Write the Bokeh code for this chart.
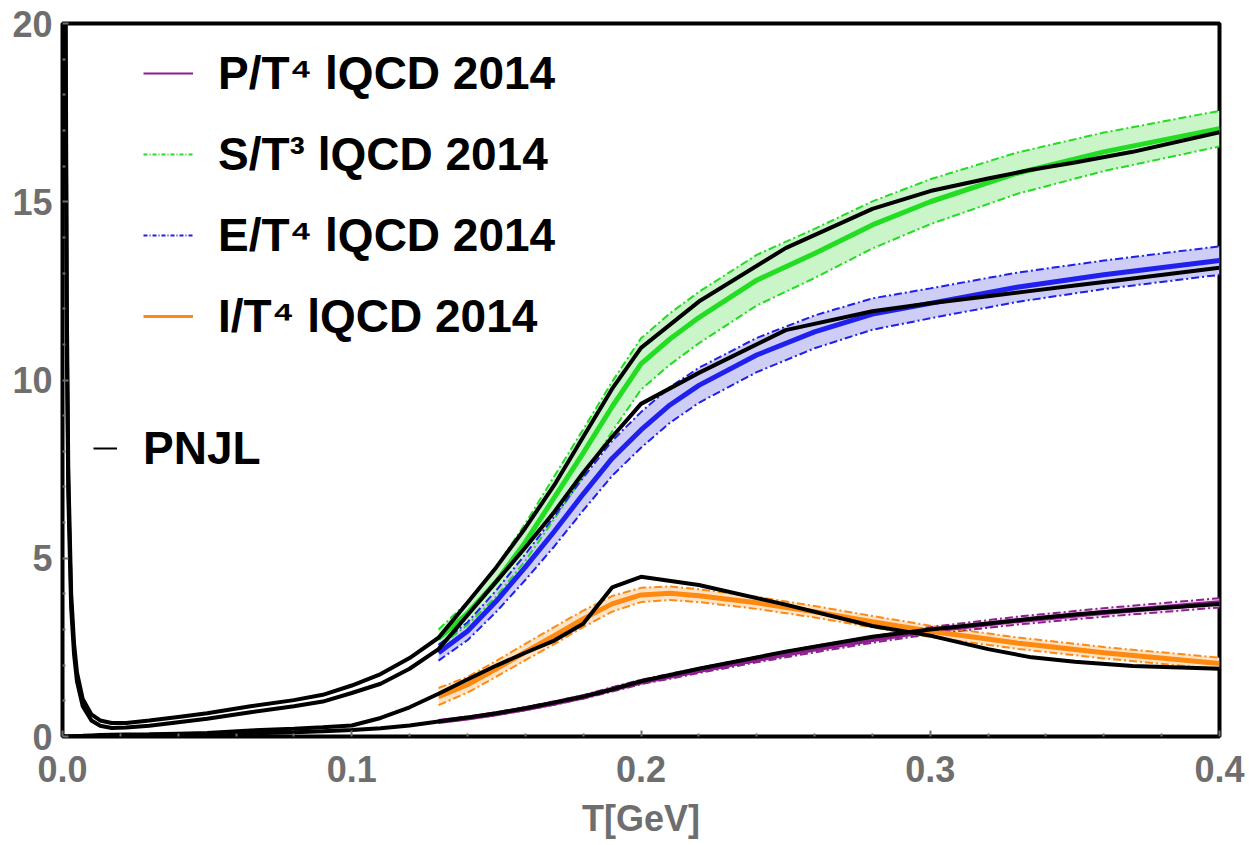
from bokeh.plotting import figure
from bokeh.models import (Legend, LegendItem, FixedTicker, PrintfTickFormatter, Range1d)
from bokeh.embed import file_html
from bokeh.resources import INLINE

# ---------------- data ----------------
# lattice QCD 2014 bands
T_lat = [0.13, 0.14, 0.15, 0.16, 0.17, 0.18, 0.19, 0.20, 0.21, 0.22,
         0.24, 0.26, 0.28, 0.30, 0.33, 0.36, 0.40]
P_lat = [0.42, 0.52, 0.64, 0.78, 0.94, 1.11, 1.32, 1.53, 1.69, 1.85,
         2.16, 2.45, 2.72, 2.97, 3.25, 3.48, 3.75]
P_err = [0.03, 0.03, 0.04, 0.04, 0.05, 0.05, 0.06, 0.06, 0.07, 0.07,
         0.08, 0.09, 0.09, 0.10, 0.11, 0.12, 0.13]
S_lat = [2.75, 3.45, 4.35, 5.45, 6.70, 7.95, 9.25, 10.45, 11.15, 11.75,
         12.80, 13.55, 14.35, 15.00, 15.80, 16.40, 17.05]
S_err = [0.25, 0.32, 0.42, 0.52, 0.60, 0.66, 0.70, 0.72, 0.72, 0.72,
         0.71, 0.69, 0.66, 0.63, 0.58, 0.54, 0.50]
E_lat = [2.35, 2.95, 3.80, 4.75, 5.75, 6.80, 7.80, 8.60, 9.30, 9.85,
         10.70, 11.35, 11.85, 12.15, 12.60, 12.95, 13.35]
E_err = [0.22, 0.25, 0.30, 0.36, 0.42, 0.46, 0.49, 0.50, 0.50, 0.49,
         0.48, 0.46, 0.44, 0.42, 0.41, 0.40, 0.40]
I_lat = [1.12, 1.45, 1.90, 2.37, 2.83, 3.30, 3.72, 3.97, 4.02, 3.95,
         3.75, 3.50, 3.22, 2.95, 2.62, 2.35, 2.05]
I_err = [0.24, 0.22, 0.22, 0.23, 0.24, 0.23, 0.22, 0.20, 0.19, 0.18,
         0.17, 0.16, 0.16, 0.16, 0.16, 0.16, 0.16]

# PNJL model curves
T_pnjl = [0.0005, 0.001, 0.0015, 0.002, 0.003, 0.004, 0.005, 0.007, 0.01,
          0.013, 0.017, 0.022, 0.03, 0.04, 0.05, 0.065, 0.08, 0.09, 0.10,
          0.11, 0.12, 0.13, 0.14, 0.15, 0.16, 0.17, 0.18, 0.19, 0.20,
          0.22, 0.25, 0.28, 0.30, 0.32, 0.335, 0.35, 0.37, 0.40]
S_pnjl = [40.0, 22.0, 12.0, 7.5, 4.0, 2.6, 1.8, 1.05, 0.62,
          0.45, 0.38, 0.38, 0.45, 0.55, 0.65, 0.85, 1.02, 1.17, 1.43,
          1.75, 2.20, 2.77, 3.75, 4.75, 5.85, 7.05, 8.40, 9.75, 10.90,
          12.20, 13.70, 14.80, 15.30, 15.65, 15.90, 16.10, 16.40, 16.95]
E_pnjl = [38.0, 20.0, 11.0, 6.8, 3.6, 2.3, 1.55, 0.85, 0.45,
          0.30, 0.24, 0.25, 0.30, 0.40, 0.50, 0.68, 0.85, 0.98, 1.22,
          1.48, 1.90, 2.45, 3.40, 4.35, 5.30, 6.30, 7.40, 8.40, 9.33,
          10.20, 11.40, 11.93, 12.15, 12.35, 12.50, 12.65, 12.85, 13.15]
P_pnjl = [0.0, 0.0, 0.0, 0.0, 0.0, 0.0, 0.005, 0.008, 0.01,
          0.015, 0.02, 0.025, 0.03, 0.045, 0.06, 0.09, 0.12, 0.15, 0.18,
          0.23, 0.31, 0.42, 0.53, 0.65, 0.79, 0.95, 1.12, 1.32, 1.55,
          1.90, 2.38, 2.80, 3.00, 3.17, 3.30, 3.42, 3.55, 3.72]
I_pnjl = [0.0, 0.0, 0.0, 0.0, 0.005, 0.01, 0.015, 0.02, 0.03,
          0.04, 0.05, 0.055, 0.06, 0.08, 0.10, 0.17, 0.22, 0.26, 0.31,
          0.52, 0.82, 1.20, 1.60, 1.99, 2.35, 2.69, 3.16, 4.18, 4.48,
          4.25, 3.70, 3.10, 2.83, 2.45, 2.22, 2.10, 1.98, 1.90]

x_ticks = [0.0, 0.1, 0.2, 0.3, 0.4]
x_minor = [0.02, 0.04, 0.06, 0.08, 0.12, 0.14, 0.16, 0.18, 0.22, 0.24,
           0.26, 0.28, 0.32, 0.34, 0.36, 0.38]
y_ticks = [0, 5, 10, 15, 20]
y_minor = [1, 2, 3, 4, 6, 7, 8, 9, 11, 12, 13, 14, 16, 17, 18, 19]

x_title = "T[GeV]"
labels = ["P/T\u2074 lQCD 2014", "S/T\u00b3 lQCD 2014",
          "E/T\u2074 lQCD 2014", "I/T\u2074 lQCD 2014"]
nan_pt = [float("nan")]

# ---------------- figure ----------------
FONT = "Liberation Sans"
GRAY = "#6e6e6e"

p = figure(width=1249, height=845, x_range=Range1d(0, 0.4), y_range=Range1d(0, 20),
           output_backend="svg", toolbar_location=None,
           min_border_left=62, min_border_right=30, min_border_top=23,
           min_border_bottom=109)
p.grid.visible = False
p.outline_line_color = "black"
p.outline_line_width = 4
p.background_fill_color = "white"
p.border_fill_color = "white"

def style_axis(ax):
    ax.axis_line_color = None
    ax.major_tick_in = 6
    ax.major_tick_out = 0
    ax.minor_tick_in = 3
    ax.minor_tick_out = 0
    ax.major_tick_line_color = GRAY
    ax.minor_tick_line_color = GRAY
    ax.major_tick_line_width = 2
    ax.minor_tick_line_width = 2
    ax.major_label_text_font = FONT
    ax.major_label_text_font_style = "bold"
    ax.major_label_text_color = GRAY
    ax.major_label_text_font_size = "36px"
    ax.major_label_text_line_height = 0.85

xa = p.xaxis[0]
xa.ticker = FixedTicker(ticks=x_ticks, minor_ticks=x_minor)
xa.formatter = PrintfTickFormatter(format="%.1f")
style_axis(xa)
xa.major_label_standoff = 19
xa.axis_label = x_title
xa.axis_label_text_font = FONT
xa.axis_label_text_font_style = "bold"
xa.axis_label_text_font_size = "36px"
xa.axis_label_text_color = GRAY
xa.axis_label_text_line_height = 0.85
xa.axis_label_standoff = 13

ya = p.yaxis[0]
ya.ticker = FixedTicker(ticks=y_ticks, minor_ticks=y_minor)
ya.formatter = PrintfTickFormatter(format="%d")
style_axis(ya)
ya.major_label_standoff = 10

# ---------------- lattice bands ----------------
DASH = "8 3 2 3"
bands = [
    (P_lat, P_err, "#8e1f8e", "#f3dcf3"),
    (S_lat, S_err, "#22dd22", "#c9f5c9"),
    (E_lat, E_err, "#1f1fee", "#cdcdf6"),
    (I_lat, I_err, "#ff8a12", "#ffe3c6"),
]
for c, e, lc, fc in bands:
    up = [a + b for a, b in zip(c, e)]
    lo = [a - b for a, b in zip(c, e)]
    p.varea(x=T_lat, y1=lo, y2=up, fill_color=fc, fill_alpha=1.0)
for c, e, lc, fc in bands:
    up = [a + b for a, b in zip(c, e)]
    lo = [a - b for a, b in zip(c, e)]
    p.line(T_lat, up, line_color=lc, line_width=2, line_dash=DASH)
    p.line(T_lat, lo, line_color=lc, line_width=2, line_dash=DASH)
for c, e, lc, fc in bands:
    p.line(T_lat, c, line_color=lc, line_width=5)

# ---------------- PNJL ----------------
for arr in (S_pnjl, E_pnjl, P_pnjl, I_pnjl):
    p.line(T_pnjl, arr, line_color="black", line_width=4)

# ---------------- legends (proxy renderers with no visible points) ----------------
r_p = p.line(x=nan_pt, y=nan_pt, line_color="#8e1f8e", line_width=2)
r_s = p.line(x=nan_pt, y=nan_pt, line_color="#22dd22", line_width=2, line_dash="4 2 1 2")
r_e = p.line(x=nan_pt, y=nan_pt, line_color="#1f1fee", line_width=2, line_dash="4 2 1 2")
r_i = p.line(x=nan_pt, y=nan_pt, line_color="#ff8a12", line_width=3)
r_k = p.line(x=nan_pt, y=nan_pt, line_color="black", line_width=2)

def make_legend(items, loc, gw, standoff):
    lg = Legend(items=items, location=loc, orientation="vertical")
    lg.border_line_color = None
    lg.background_fill_alpha = 0
    lg.padding = 0
    lg.margin = 0
    lg.spacing = 21
    lg.label_height = 60
    lg.glyph_height = 60
    lg.glyph_width = gw
    lg.label_standoff = standoff
    lg.label_text_font = FONT
    lg.label_text_font_style = "bold"
    lg.label_text_font_size = "46px"
    lg.label_text_color = "black"
    return lg

leg1 = make_legend([LegendItem(label=labels[0], renderers=[r_p]),
                    LegendItem(label=labels[1], renderers=[r_s]),
                    LegendItem(label=labels[2], renderers=[r_e]),
                    LegendItem(label=labels[3], renderers=[r_i])],
                   (81, 390), 50, 25)
leg2 = make_legend([LegendItem(label="PNJL", renderers=[r_k])], (31, 258), 24, 26)
p.add_layout(leg1)
p.add_layout(leg2)

open("out.html", "w").write(file_html(p, INLINE))
